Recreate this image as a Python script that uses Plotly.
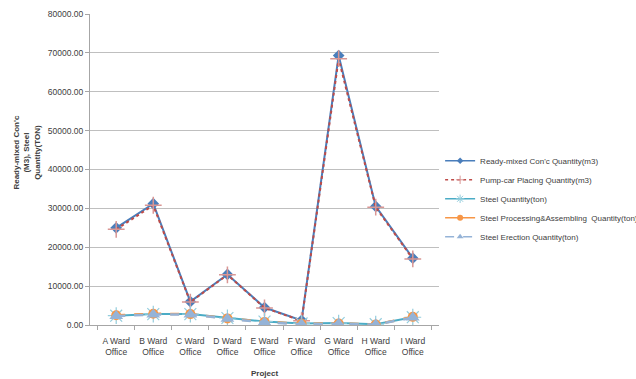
import plotly.graph_objects as go

projects = ["A Ward<br>Office", "B Ward<br>Office", "C Ward<br>Office", "D Ward<br>Office",
            "E Ward<br>Office", "F Ward<br>Office", "G Ward<br>Office", "H Ward<br>Office", "I Ward<br>Office"]
ready_mixed = [25000, 31200, 6000, 13000, 4500, 1200, 69300, 30500, 17200]
pump_car = [24600, 30800, 5900, 12900, 4400, 1100, 68500, 30300, 17000]
steel_qty = [2400, 2800, 2800, 1800, 900, 400, 500, 200, 2000]
steel_proc = [2500, 2900, 2800, 1700, 800, 300, 400, 100, 2100]
steel_erect = [2300, 2700, 2700, 1600, 700, 200, 300, 100, 1900]
series_names = ["Ready-mixed Con'c Quantity(m3)", "Pump-car Placing Quantity(m3)",
                "Steel Quantity(ton)", "Steel Processing&Assembling  Quantity(ton)",
                "Steel Erection Quantity(ton)"]
y_ticks = [0, 10000, 20000, 30000, 40000, 50000, 60000, 70000, 80000]
y_tick_labels = ["%.2f" % v for v in y_ticks]

FONT = "Liberation Sans"
TXT = "#404040"

styles = [
    dict(line=dict(color="#4A7EBB", width=2), sym="diamond", msize=9, mcolor="#4A7EBB", mline=None),
    dict(line=dict(color="#BE4B48", width=2, dash="dot"), sym="cross-thin", msize=12, mcolor="#D99694",
         mline=dict(color="#D99694", width=1.5)),
    dict(line=dict(color="#4BACC6", width=2), sym="asterisk", msize=14, mcolor="#93CDDD",
         mline=dict(color="#93CDDD", width=1.2)),
    dict(line=dict(color="#F79646", width=2.5, dash="dash"), sym="circle", msize=10, mcolor="#F79646", mline=None),
    dict(line=dict(color="#95B3D7", width=2.5, dash="dash"), sym="triangle-up", msize=12, mcolor="#95B3D7", mline=None),
]
legend_styles = [
    dict(line=dict(color="#4A7EBB", width=1.5), msize=5),
    dict(line=dict(color="#BE4B48", width=1.5, dash="dot"), msize=6),
    dict(line=dict(color="#4BACC6", width=1.5), msize=7),
    dict(line=dict(color="#F79646", width=1.5), msize=6),
    dict(line=dict(color="#95B3D7", width=1.5, dash="dash"), msize=6),
]
data = [ready_mixed, pump_car, steel_qty, steel_proc, steel_erect]

fig = go.Figure()
for name, vals, st in zip(series_names, data, styles):
    m = dict(symbol=st["sym"], size=st["msize"], color=st["mcolor"])
    if st["mline"]:
        m["line"] = st["mline"]
    fig.add_trace(go.Scatter(x=projects, y=vals, name=name, mode="lines+markers",
                             line=st["line"], marker=m, showlegend=False))
for i, (name, st, ls) in enumerate(zip(series_names, styles, legend_styles)):
    m = dict(symbol=st["sym"], size=ls["msize"], color=st["mcolor"])
    if st["mline"]:
        m["line"] = dict(color=st["mline"]["color"], width=1)
    fig.add_trace(go.Scatter(x=[None], y=[None], name=name, mode="lines+markers",
                             line=ls["line"], marker=m, showlegend=True))

fig.update_layout(
    width=636, height=379,
    margin=dict(l=90, r=197, t=14, b=54),
    paper_bgcolor="white", plot_bgcolor="white",
    font=dict(family=FONT, size=8, color=TXT),
    showlegend=True,
    legend=dict(xref="container", yref="container", x=0.692, y=0.614,
                xanchor="left", yanchor="top",
                font=dict(size=8, color=TXT), tracegroupgap=0,
                itemwidth=30, entrywidth=140, bgcolor="rgba(0,0,0,0)"),
    xaxis=dict(showgrid=False, showline=True, linecolor="#A6A6A6", linewidth=1,
               ticks="outside", ticklen=4, tickcolor="#A6A6A6", tickson="boundaries",
               tickangle=0,
               tickfont=dict(size=8.5, color=TXT), ticklabelstandoff=8, automargin=False,
               title=dict(text="<b>Project</b>", font=dict(size=8, color=TXT), standoff=14)),
    yaxis=dict(range=[0, 80000], tickvals=y_ticks, ticktext=y_tick_labels,
               showgrid=True, gridcolor="#BFBFBF", gridwidth=1,
               showline=True, linecolor="#A6A6A6", linewidth=1,
               ticks="outside", ticklen=4, tickcolor="#A6A6A6", automargin=False,
               tickfont=dict(size=8.5, color=TXT), zeroline=False),
)
fig.add_annotation(text="<b>Ready-mixed Con'c<br>(M3), Steel<br>Quantity(TON)</b>",
                   xref="paper", yref="paper", x=-0.18, y=0.555, textangle=-90,
                   xanchor="center", yanchor="middle",
                   showarrow=False, font=dict(size=8, color=TXT), align="center")

fig.write_html("out.html")
